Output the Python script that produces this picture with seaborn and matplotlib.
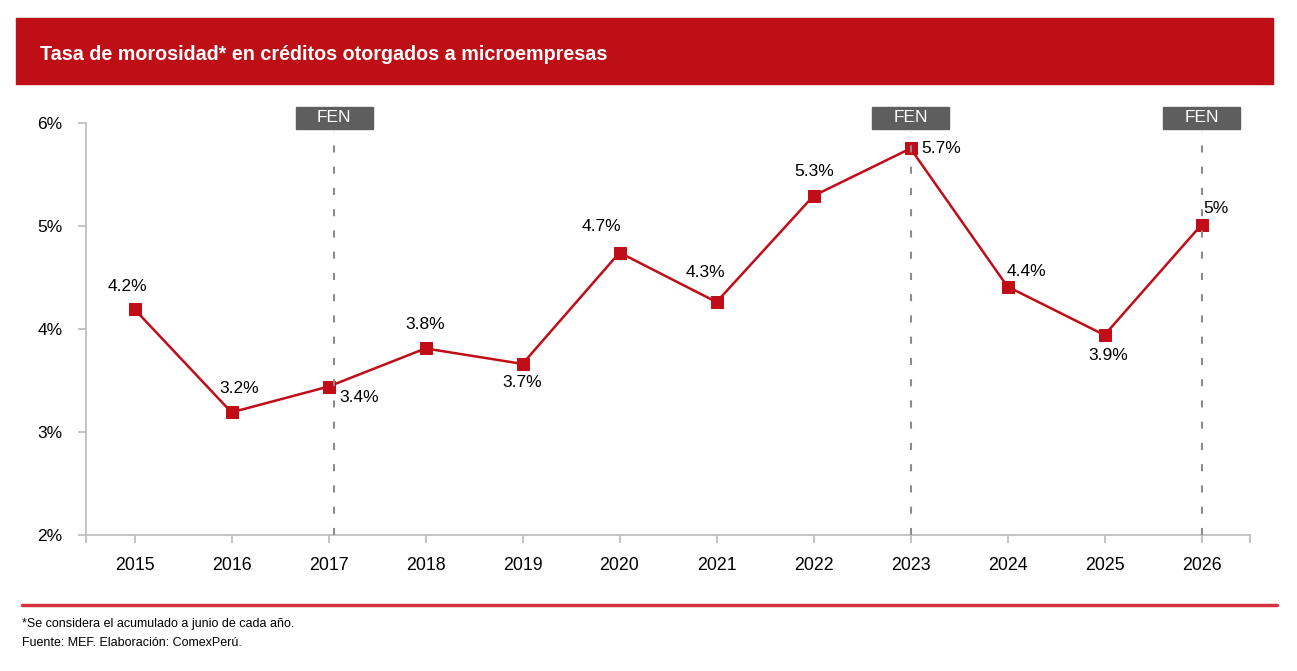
import seaborn as sns
import matplotlib.pyplot as plt
import pandas as pd
from matplotlib.patches import Rectangle
from matplotlib.transforms import blended_transform_factory

# data
years = [2015, 2016, 2017, 2018, 2019, 2020, 2021, 2022, 2023, 2024, 2025, 2026]
tasa = [4.19, 3.19, 3.44, 3.81, 3.66, 4.74, 4.26, 5.29, 5.75, 4.41, 3.94, 5.01]
etiquetas = ['4.2%', '3.2%', '3.4%', '3.8%', '3.7%', '4.7%', '4.3%', '5.3%', '5.7%', '4.4%', '3.9%', '5%']
# label offsets in pixels (dx, dy)
offsets = [(-7, 23), (8, 24), (31, -11), (0, 24), (0, -19), (-18, 26),
           (-11, 30), (1, 24), (31, 0), (19, 15), (4, -20), (14, 16)]
fen_years = [2017.06, 2023, 2026]

df = pd.DataFrame({'anio': years, 'tasa': tasa})

sns.set_style('white')
plt.rcParams['font.family'] = ['Liberation Sans', 'DejaVu Sans']

RED = '#C00D17'
GRAY_AX = '#BFBFBF'

fig = plt.figure(figsize=(12.97, 6.71), dpi=100)
ax = fig.add_axes([86/1297, 1-535/671, (1250-86)/1297, (535-122.7)/671])

# title bar
fig.patches.append(Rectangle((16/1297, 1-84/671), (1273-16)/1297, 66/671,
                             transform=fig.transFigure, color='#BE0E16', zorder=0))
fig.text(40/1297, 1-54/671, 'Tasa de morosidad* en créditos otorgados a microempresas',
         color='white', fontsize=14.2, fontweight='bold', va='center', ha='left')

sns.lineplot(data=df, x='anio', y='tasa', ax=ax, color=RED, linewidth=1.8,
             marker='s', markersize=8, markeredgecolor=RED, zorder=3)

for x, y, t, (dx, dy) in zip(years, tasa, etiquetas, offsets):
    ax.annotate(t, (x, y), xytext=(dx, dy), textcoords='offset pixels',
                ha='center', va='center', fontsize=12.5, color='black')

# FEN markers
trans = blended_transform_factory(ax.transData, ax.transAxes)
box_w = 0.795
box_bottom = (535 - 129) / 412.3
box_h = 22 / 412.3
for fx in fen_years:
    ax.axvline(fx, ymin=0, ymax=(535 - 131) / 412.3, color='#8C8C8C', linewidth=1.5,
               linestyle=(0, (3.4, 6.8)), zorder=4)
    ax.add_patch(Rectangle((fx - box_w / 2, box_bottom), box_w, box_h, transform=trans,
                           facecolor='#5E5E5E', edgecolor='#5E5E5E', clip_on=False, zorder=5))
    ax.text(fx, box_bottom + box_h / 2, 'FEN', transform=trans, ha='center', va='center',
            color='white', fontsize=12.5, clip_on=False, zorder=6)

ax.set_xlim(2014.5, 2026.5)
ax.set_ylim(2, 6)
ax.set_xticks(years)
ax.set_xticks([2014.5, 2026.5], minor=True)
ax.set_yticks([2, 3, 4, 5, 6])
ax.set_yticklabels(['2%', '3%', '4%', '5%', '6%'])
ax.set_xlabel('')
ax.set_ylabel('')
for side in ['top', 'right']:
    ax.spines[side].set_visible(False)
for side in ['left', 'bottom']:
    ax.spines[side].set_color(GRAY_AX)
    ax.spines[side].set_linewidth(1.3)
ax.tick_params(axis='y', which='major', left=True, length=6, width=1.3, color=GRAY_AX,
               pad=11, labelsize=12.5, labelcolor='black')
ax.tick_params(axis='x', which='both', bottom=True, length=6, width=1.3, color=GRAY_AX,
               pad=10, labelsize=12.8, labelcolor='black')
ax.grid(False)

# separator and footnotes
fig.add_artist(plt.Line2D([22/1297, 1277/1297], [1-605/671, 1-605/671],
                          color='#D6313F', linewidth=2.5))
fig.text(22/1297, 1-624/671, '*Se considera el acumulado a junio de cada año.',
         fontsize=9, va='center', ha='left', color='black')
fig.text(22/1297, 1-643/671, 'Fuente: MEF. Elaboración: ComexPerú.',
         fontsize=9, va='center', ha='left', color='black')

fig.savefig('out.png', dpi=100, facecolor='white')
